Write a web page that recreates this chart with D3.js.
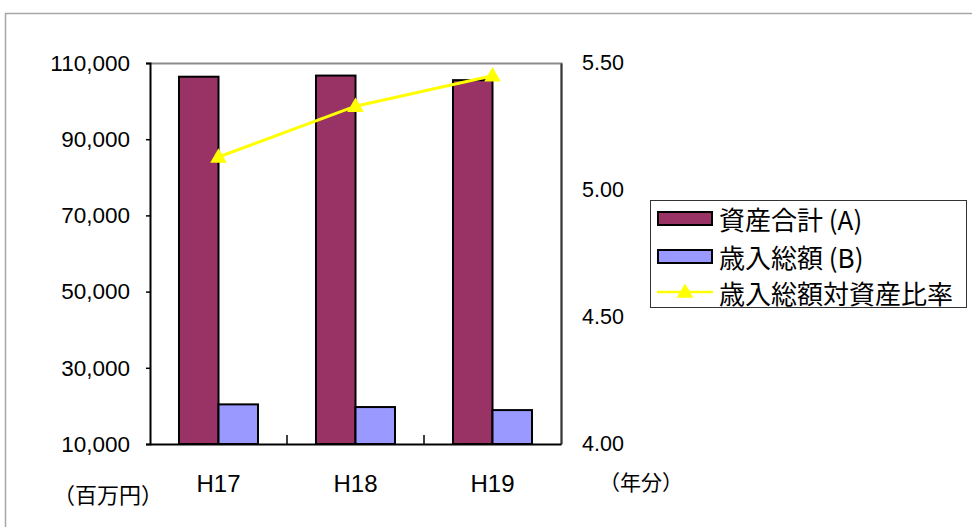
<!DOCTYPE html>
<html>
<head>
<meta charset="utf-8">
<script src="https://cdn.jsdelivr.net/npm/d3@7"></script>
<style>
  html, body { margin: 0; padding: 0; background: #fff; }
  svg { display: block; }
  .num { font-family: "Liberation Sans", Arial, sans-serif; fill: #000; }
  .jp { font-family: "Noto Sans CJK JP", "Noto Sans", sans-serif; fill: #000; }
</style>
</head>
<body>
<svg id="chart" width="972" height="527"></svg>
<script>
// Fiscal years
const categories = ["H17", "H18", "H19"];
// 資産合計 (A), 百万円
const assetTotal = [106400, 106700, 105500];
// 歳入総額 (B), 百万円
const revenueTotal = [20400, 19700, 18900];
// 歳入総額対資産比率 (年分)
const assetRatio = [5.13, 5.33, 5.45];
// Axis ticks
const leftTicks = [10000, 30000, 50000, 70000, 90000, 110000];
const rightTicks = [4.00, 4.50, 5.00, 5.50];
const seriesNames = ["資産合計 (A)", "歳入総額 (B)", "歳入総額対資産比率"];

const colA = "#993366", colB = "#9999FF", colLine = "#FFFF00";

const svg = d3.select("#chart");
const plot = { left: 150, right: 561, top: 63, bottom: 444 };

// outer chart frame
svg.append("rect")
  .attr("x", 5.5).attr("y", 13.5).attr("width", 1000).attr("height", 600)
  .attr("fill", "none").attr("stroke", "#a6a6a6").attr("stroke-width", 1.5);

const x = d3.scaleBand().domain(categories).range([plot.left, plot.right]);
const xs = d3.scaleBand().domain(["A", "B"]).range([0, x.bandwidth()])
  .paddingInner(0).paddingOuter(0.734);
const yL = d3.scaleLinear().domain([10000, 110000]).range([plot.bottom, plot.top]);
const yR = d3.scaleLinear().domain([4, 5.5]).range([plot.bottom, plot.top]);

// plot area frame (top / right)
svg.append("path")
  .attr("d", `M${plot.left},${plot.top + 0.5}H${plot.right + 0.5}V${plot.bottom}`)
  .attr("fill", "none").attr("stroke", "#8c8c8c").attr("stroke-width", 2);

// bars
const groups = svg.append("g").selectAll("g").data(categories).join("g")
  .attr("transform", d => `translate(${x(d)},0)`);
groups.append("rect")
  .attr("x", xs("A")).attr("width", xs.bandwidth())
  .attr("y", (d, i) => yL(assetTotal[i]))
  .attr("height", (d, i) => plot.bottom - yL(assetTotal[i]))
  .attr("fill", colA).attr("stroke", "#000").attr("stroke-width", 2);
groups.append("rect")
  .attr("x", xs("B")).attr("width", xs.bandwidth())
  .attr("y", (d, i) => yL(revenueTotal[i]))
  .attr("height", (d, i) => plot.bottom - yL(revenueTotal[i]))
  .attr("fill", colB).attr("stroke", "#000").attr("stroke-width", 2);

// left value axis
const axL = svg.append("g").attr("transform", `translate(${plot.left},0)`)
  .call(d3.axisLeft(yL).tickValues(leftTicks).tickFormat(d3.format(",")).tickSize(4).tickPadding(16));
axL.select(".domain").attr("stroke", "#000").attr("stroke-width", 2);
axL.selectAll(".tick line").attr("stroke", "#000").attr("stroke-width", 1.5);
axL.selectAll("text").attr("class", "num").attr("font-size", 22.5).attr("fill", "#000");

// right value axis
const axR = svg.append("g").attr("transform", `translate(${plot.right},0)`)
  .call(d3.axisRight(yR).tickValues(rightTicks).tickFormat(d3.format(".2f")).tickSize(0).tickPadding(21));
axR.select(".domain").attr("stroke", "#3a3a3a").attr("stroke-width", 2);
axR.selectAll("text").attr("class", "num").attr("font-size", 21.5).attr("fill", "#000");

// category axis
const axX = svg.append("g").attr("transform", `translate(0,${plot.bottom})`)
  .call(d3.axisBottom(x).tickSize(0).tickPadding(31));
axX.select(".domain").attr("stroke", "#000").attr("stroke-width", 2);
axX.selectAll("text").attr("class", "num").attr("font-size", 24).attr("fill", "#000");
// inner tick marks between categories
svg.append("g").selectAll("line").data(categories.slice(1)).join("line")
  .attr("x1", d => x(d)).attr("x2", d => x(d))
  .attr("y1", plot.bottom - 9).attr("y2", plot.bottom)
  .attr("stroke", "#000").attr("stroke-width", 1.5);

// ratio line
const cx = (d) => x(d) + x.bandwidth() / 2;
const line = d3.line().x((d, i) => cx(categories[i])).y(d => yR(d));
svg.append("path").datum(assetRatio)
  .attr("d", line).attr("fill", "none").attr("stroke", colLine).attr("stroke-width", 3);
const tri = d3.symbol().type(d3.symbolTriangle).size(120);
svg.append("g").selectAll("path").data(assetRatio).join("path")
  .attr("d", tri)
  .attr("transform", (d, i) => `translate(${cx(categories[i])},${yR(d) + 1})`)
  .attr("fill", colLine);

// unit labels
svg.append("text").attr("class", "jp").attr("x", 53).attr("y", 493)
  .attr("dominant-baseline", "central").attr("font-size", 22).text("（百万円）");
svg.append("text").attr("class", "jp").attr("x", 599).attr("y", 481)
  .attr("dominant-baseline", "central").attr("font-size", 21).text("（年分）");

// legend
const lg = svg.append("g");
lg.append("rect").attr("x", 650.5).attr("y", 200.5).attr("width", 316).attr("height", 107)
  .attr("fill", "#fff").attr("stroke", "#333").attr("stroke-width", 1);
const rowsY = [218, 256, 292];
lg.append("rect").attr("x", 658).attr("y", rowsY[0] - 6).attr("width", 54).attr("height", 13)
  .attr("fill", colA).attr("stroke", "#000").attr("stroke-width", 2);
lg.append("rect").attr("x", 658).attr("y", rowsY[1] - 6).attr("width", 54).attr("height", 13)
  .attr("fill", colB).attr("stroke", "#000").attr("stroke-width", 2);
lg.append("line").attr("x1", 657).attr("x2", 713).attr("y1", rowsY[2]).attr("y2", rowsY[2])
  .attr("stroke", colLine).attr("stroke-width", 2.5);
lg.append("path").attr("d", tri).attr("transform", `translate(685,${rowsY[2] + 1})`).attr("fill", colLine);
lg.selectAll("text.lab").data(seriesNames).join("text")
  .attr("class", "jp lab").attr("x", 719).attr("y", (d, i) => rowsY[i])
  .attr("dominant-baseline", "central").attr("font-size", 26).text(d => d);
</script>
</body>
</html>
